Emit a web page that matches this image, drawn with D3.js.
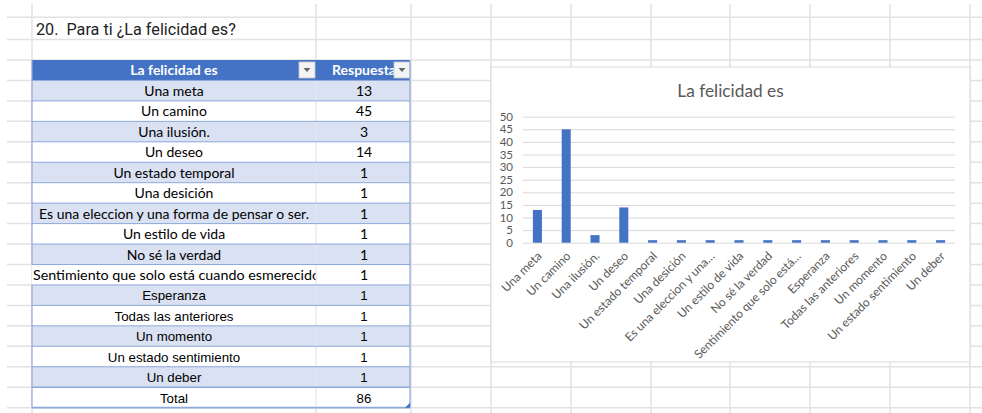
<!DOCTYPE html>
<html><head><meta charset="utf-8">
<script src="https://cdn.jsdelivr.net/npm/d3@7"></script>
<style>
html,body{margin:0;padding:0;background:#fff;}
svg{display:block;}
</style></head>
<body><svg id="c" width="982" height="413"></svg>
<script>
// ---- data ----
const pageTitle = "20.  Para ti ¿La felicidad es?";
const tableHeaders = ["La felicidad es", "Respuesta"];
const tableLabels = ["Una meta","Un camino","Una ilusión.","Un deseo","Un estado temporal","Una desición","Es una eleccion y una forma de pensar o ser.","Un estilo de vida","No sé la verdad","Sentimiento que solo está cuando esmerecido","Esperanza","Todas las anteriores","Un momento","Un estado sentimiento","Un deber"];
const values = [13,45,3,14,1,1,1,1,1,1,1,1,1,1,1];
const totalLabel = "Total";
const chartTitle = "La felicidad es";
const chartCategories = ["Una meta","Un camino","Una ilusión.","Un deseo","Un estado temporal","Una desición","Es una eleccion y una…","Un estilo de vida","No sé la verdad","Sentimiento que solo está…","Esperanza","Todas las anteriores","Un momento","Un estado sentimiento","Un deber"];
const yTicks = [0,5,10,15,20,25,30,35,40,45,50];

const svg = d3.select("#c");
const calibri = "Lato, 'Open Sans', sans-serif";
const arial = "'Liberation Sans', Arial, sans-serif";

// ---- sheet grid ----
const rowH = 20.45, tableTop = 60;
const rowLines = [17.3, 39.5];
for (let k = 0; k <= 17; k++) rowLines.push(tableTop + rowH * k);
const colLines = [32, 316, 411, 491, 571, 651, 730, 810, 890, 970];
const grid = svg.append("g");
grid.selectAll("line.h").data(rowLines).join("line")
  .attr("x1", 7).attr("x2", 982).attr("y1", d => d).attr("y2", d => d)
  .attr("stroke", "#e2e2e2").attr("stroke-width", 1.5);
grid.selectAll("line.v").data(colLines).join("line")
  .attr("x1", d => d).attr("x2", d => d).attr("y1", 4).attr("y2", 413)
  .attr("stroke", "#e2e2e2").attr("stroke-width", 1.5);

svg.append("text").attr("x", 36).attr("y", 35).text(pageTitle)
  .style("white-space", "pre")
  .attr("font-family", "Roboto, sans-serif").attr("font-size", 16.2).attr("fill", "#222");

// ---- table ----
const tx0 = 32, tx1 = 316, tx2 = 410;
const tbl = svg.append("g");
const rows = tableLabels.map((l, i) => ({label: l, value: values[i], i}));
rows.push({label: totalLabel, value: d3.sum(values), i: tableLabels.length});

// header
tbl.append("rect").attr("x", tx0).attr("y", tableTop).attr("width", tx2 - tx0).attr("height", rowH)
  .attr("fill", "#4472C4");
tbl.append("text").attr("x", (tx0 + tx1) / 2).attr("y", tableTop + 15).attr("text-anchor", "middle")
  .attr("font-family", calibri).attr("font-weight", "bold").attr("font-size", 14).attr("fill", "#fff")
  .text(tableHeaders[0]);
tbl.append("text").attr("x", 332).attr("y", tableTop + 15)
  .attr("font-family", calibri).attr("font-weight", "bold").attr("font-size", 14).attr("fill", "#fff")
  .text(tableHeaders[1]);
// dropdown buttons
[[299, 315], [394, 410]].forEach(([a, b]) => {
  tbl.append("rect").attr("x", a).attr("y", 62).attr("width", b - a).attr("height", 16)
    .attr("fill", "#f4f4f4").attr("stroke", "#c8c8c8").attr("stroke-width", 0.8);
  const cx = (a + b) / 2, cy = 70;
  tbl.append("path").attr("d", `M${cx-3.5},${cy-2} L${cx+3.5},${cy-2} L${cx},${cy+2} Z`).attr("fill", "#666");
});

rows.forEach(r => {
  const top = tableTop + rowH * (r.i + 1);
  const band = r.i % 2 === 0 && r.i < tableLabels.length && r.i !== 9;
  tbl.append("rect").attr("x", tx0).attr("y", top).attr("width", tx2 - tx0).attr("height", rowH)
    .attr("fill", band ? "#D9E1F2" : "#fff");
});
// B|C inner line
tbl.append("line").attr("x1", tx1).attr("x2", tx1).attr("y1", tableTop + rowH).attr("y2", tableTop + rowH * 17)
  .attr("stroke", "#e3e6ee").attr("stroke-width", 1.2);
// horizontal borders
d3.range(1, 18).forEach(k => {
  tbl.append("line").attr("x1", tx0).attr("x2", tx2).attr("y1", tableTop + rowH * k).attr("y2", tableTop + rowH * k)
    .attr("stroke", "#8EA9DB").attr("stroke-width", k === 16 || k === 17 ? 1.6 : 1);
});
// outer verticals
tbl.append("line").attr("x1", tx2).attr("x2", tx2).attr("y1", tableTop).attr("y2", tableTop + rowH * 17)
  .attr("stroke", "#8EA9DB").attr("stroke-width", 1.2);
tbl.append("line").attr("x1", tx0).attr("x2", tx0).attr("y1", tableTop).attr("y2", tableTop + rowH * 10)
  .attr("stroke", "#8EA9DB").attr("stroke-width", 1.2);
tbl.append("line").attr("x1", tx0).attr("x2", tx0).attr("y1", tableTop + rowH * 11).attr("y2", tableTop + rowH * 17)
  .attr("stroke", "#8EA9DB").attr("stroke-width", 1.2);
// resize handle
tbl.append("path").attr("d", `M${tx2},${tableTop+rowH*17-5} L${tx2},${tableTop+rowH*17} L${tx2-5},${tableTop+rowH*17} Z`)
  .attr("fill", "#4472C4");

svg.append("clipPath").attr("id", "clipB").append("rect").attr("x", 0).attr("y", 0).attr("width", tx1 - 0.5).attr("height", 413);
rows.forEach(r => {
  const top = tableTop + rowH * (r.i + 1);
  const isArial = r.i >= 10;
  const font = isArial ? arial : calibri;
  const fs = isArial ? 13.3 : 14;
  if (r.i === 9) {
    tbl.append("text").attr("x", 33).attr("y", top + 15.5).attr("clip-path", "url(#clipB)")
      .attr("font-family", font).attr("font-size", fs).attr("fill", "#000")
      .attr("textLength", 287).attr("lengthAdjust", "spacingAndGlyphs").text(r.label);
  } else {
    tbl.append("text").attr("x", (tx0 + tx1) / 2).attr("y", top + 15.5).attr("text-anchor", "middle")
      .attr("font-family", font).attr("font-size", fs).attr("fill", "#000").text(r.label);
  }
  tbl.append("text").attr("x", (tx1 + tx2) / 2 + 1).attr("y", top + 15.5).attr("text-anchor", "middle")
    .attr("font-family", font).attr("font-size", fs).attr("fill", "#000").text(r.value);
});

// ---- chart ----
const ch = svg.append("g");
ch.append("rect").attr("x", 491).attr("y", 67).attr("width", 479).attr("height", 295)
  .attr("fill", "#fff").attr("stroke", "#d9d9d9").attr("stroke-width", 1);
ch.append("text").attr("x", 730.5).attr("y", 97).attr("text-anchor", "middle")
  .attr("font-family", calibri).attr("font-size", 17.3).attr("fill", "#595959").text(chartTitle);

const x = d3.scaleBand().domain(chartCategories).range([523, 955]).paddingInner(0.686).paddingOuter(0.343);
const y = d3.scaleLinear().domain([0, 50]).range([242.7, 116.7]);

const yAxis = d3.axisLeft(y).tickValues(yTicks).tickSize(-(955 - 523)).tickPadding(10);
const gy = ch.append("g").attr("transform", "translate(523,0)").call(yAxis);
gy.select(".domain").remove();
gy.selectAll(".tick line").attr("stroke", "#d9d9d9");
gy.selectAll(".tick text").attr("font-family", calibri).attr("font-size", 11.5).attr("fill", "#595959");

ch.selectAll("rect.bar").data(values).join("rect").attr("class", "bar")
  .attr("x", (d, i) => x(chartCategories[i])).attr("width", x.bandwidth())
  .attr("y", d => y(d)).attr("height", d => y(0) - y(d)).attr("fill", "#4472C4");

const xAxis = d3.axisBottom(x).tickSize(0).tickPadding(0);
const gx = ch.append("g").attr("transform", `translate(0,${y(0)})`).call(xAxis);
gx.select(".domain").remove();
gx.selectAll(".tick text")
  .attr("font-family", calibri).attr("font-size", 12).attr("fill", "#595959")
  .attr("text-anchor", "end").attr("dy", null).attr("y", null)
  .attr("transform", "translate(3,12) rotate(-45)")
  .attr("dominant-baseline", "middle");
</script></body></html>
